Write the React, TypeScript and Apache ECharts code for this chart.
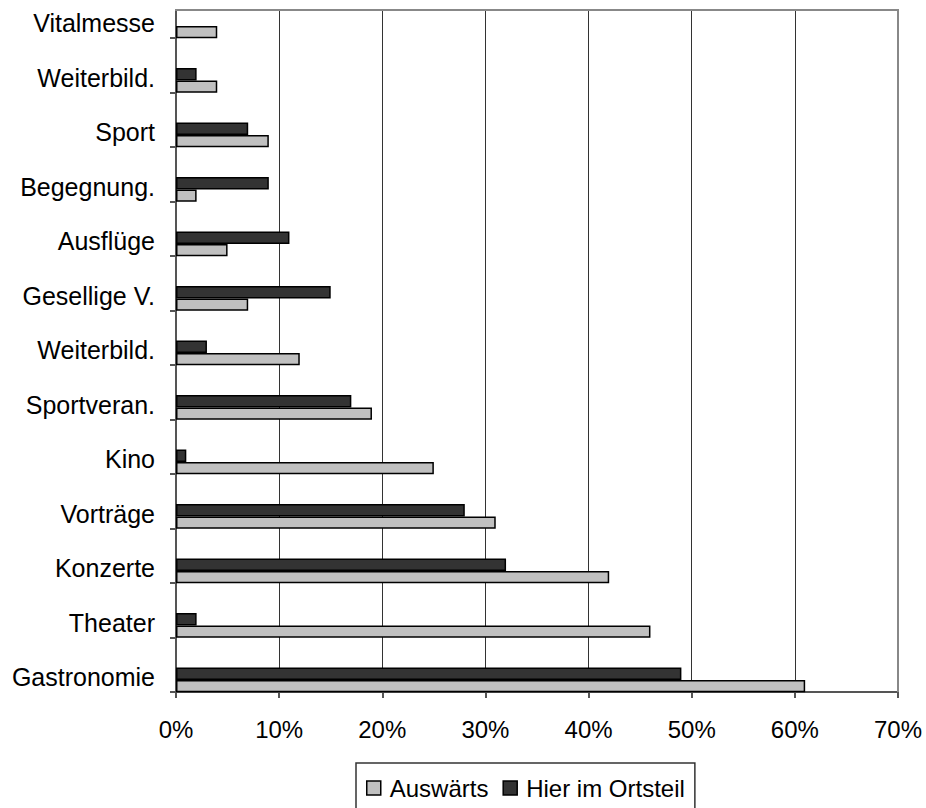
import React, { useEffect, useRef } from "react";
import * as echarts from "echarts";

// Categories listed bottom → top (ECharts category y axis grows upward)
const categories: string[] = [
  "Gastronomie",
  "Theater",
  "Konzerte",
  "Vorträge",
  "Kino",
  "Sportveran.",
  "Weiterbild.",
  "Gesellige V.",
  "Ausflüge",
  "Begegnung.",
  "Sport",
  "Weiterbild.",
  "Vitalmesse",
];

const auswaerts: (number | null)[] = [61, 46, 42, 31, 25, 19, 12, 7, 5, 2, 9, 4, 4];
const hierImOrtsteil: (number | null)[] = [49, 2, 32, 28, 1, 17, 3, 15, 11, 9, 7, 2, null];

const xMin = 0;
const xMax = 70;
const xInterval = 10;

const seriesNames = ["Auswärts", "Hier im Ortsteil"];

const FONT = "'Liberation Sans', Arial, Helvetica, sans-serif";

// The chart canvas starts SHIFT px above the page so the top category band can be clipped
const SHIFT = 30;

export default function App() {
  const ref = useRef<HTMLDivElement>(null);

  useEffect(() => {
    if (!ref.current) return;
    const chart = echarts.init(ref.current, undefined, { renderer: "svg" });

    const option: any = {
      animation: false,
      backgroundColor: "#ffffff",
      textStyle: { fontFamily: FONT },
      grid: {
        left: 176,
        right: 28,
        top: SHIFT - 16.5,
        bottom: 116,
        containLabel: false,
      },
      xAxis: {
        type: "value",
        min: xMin,
        max: xMax,
        interval: xInterval,
        axisLine: { show: true, lineStyle: { color: "#555555", width: 2 } },
        axisTick: { show: true, length: 6, lineStyle: { color: "#555555", width: 2 } },
        axisLabel: {
          formatter: "{value}%",
          fontSize: 24,
          color: "#000000",
          fontFamily: FONT,
          margin: 25,
        },
        splitLine: {
          show: true,
          showMinLine: false,
          showMaxLine: false,
          lineStyle: { color: "#333333", width: 1 },
        },
      },
      yAxis: {
        type: "category",
        data: categories,
        boundaryGap: true,
        axisLine: { show: true, lineStyle: { color: "#555555", width: 2 } },
        axisTick: { show: true, length: 6, lineStyle: { color: "#555555", width: 2 } },
        axisLabel: {
          fontSize: 25,
          color: "#000000",
          fontFamily: FONT,
          margin: 21,
          verticalAlign: "top",
          interval: 0,
        },
        splitLine: { show: false },
      },
      legend: {
        data: seriesNames,
        left: 356,
        top: SHIFT + 763,
        orient: "horizontal",
        padding: [13, 10, 13, 10],
        itemWidth: 14,
        itemHeight: 14,
        itemGap: 14,
        icon: "rect",
        borderColor: "#333333",
        borderWidth: 1.5,
        itemStyle: { borderColor: "#000000", borderWidth: 1.5 },
        textStyle: { fontSize: 24, color: "#000000", fontFamily: FONT, padding: [0, 0, 0, 4] },
      },
      series: [
        {
          name: "__pad",
          type: "bar",
          data: [],
          barWidth: 30.3,
          barGap: "0%",
          silent: true,
          itemStyle: { color: "transparent" },
        },
        {
          name: "Hier im Ortsteil",
          type: "bar",
          data: hierImOrtsteil,
          barWidth: 12.3,
          barGap: "0%",
          itemStyle: { color: "#333333", borderColor: "#000000", borderWidth: 1.5 },
        },
        {
          name: "Auswärts",
          type: "bar",
          data: auswaerts,
          barWidth: 12.3,
          barGap: "0%",
          itemStyle: { color: "#c0c0c0", borderColor: "#000000", borderWidth: 1.5 },
        },
      ],
      graphic: [
        {
          type: "rect",
          z: 100,
          shape: { x: 168, y: 0, width: 758, height: SHIFT + 9 },
          style: { fill: "#ffffff" },
          silent: true,
        },
        {
          type: "line",
          z: 101,
          shape: { x1: 175, y1: SHIFT + 10, x2: 899, y2: SHIFT + 10 },
          style: { stroke: "#888888", lineWidth: 2 },
          silent: true,
        },
        {
          type: "line",
          z: 101,
          shape: { x1: 898, y1: SHIFT + 10, x2: 898, y2: SHIFT + 692 },
          style: { stroke: "#888888", lineWidth: 2 },
          silent: true,
        },
      ],
    };

    chart.setOption(option);
    return () => {
      chart.dispose();
    };
  }, []);

  return (
    <div
      ref={ref}
      style={{
        position: "fixed",
        left: 0,
        top: -SHIFT,
        width: 926,
        height: 808 + SHIFT,
        background: "#fff",
      }}
    />
  );
}
